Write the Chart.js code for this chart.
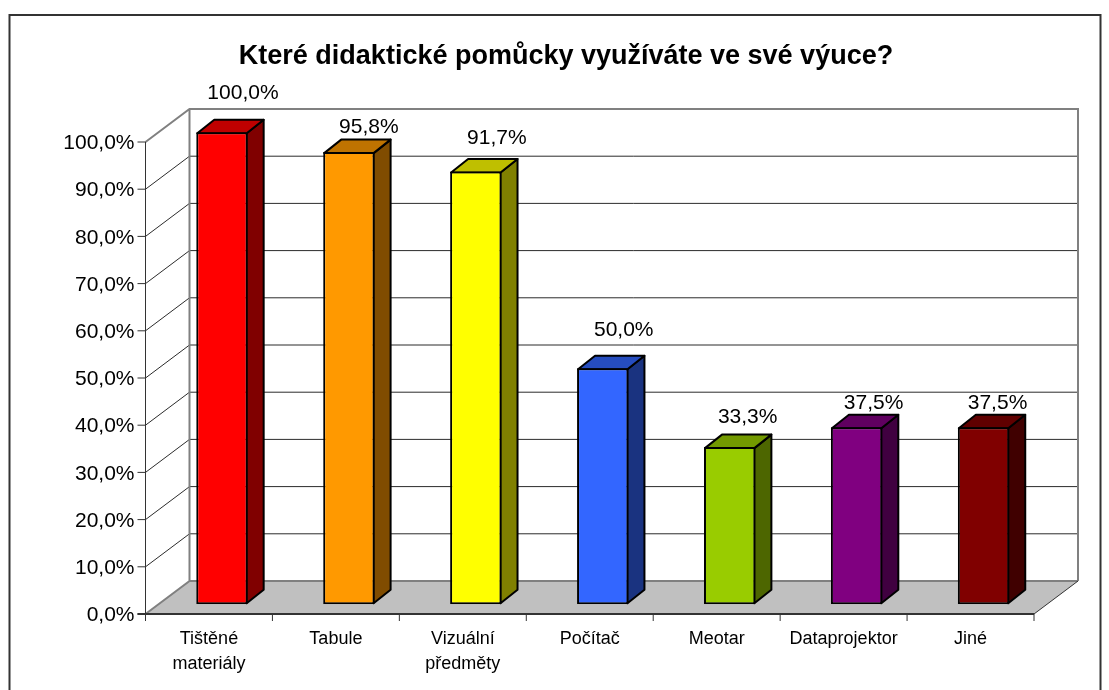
<!DOCTYPE html>
<html>
<head>
<meta charset="utf-8">
<title>Didaktické pomůcky</title>
<script src="https://cdn.jsdelivr.net/npm/chart.js@4/dist/chart.umd.js"></script>
<style>
  html, body { margin: 0; padding: 0; background: #fff; }
  #wrap { width: 1109px; height: 690px; }
</style>
</head>
<body>
<div id="wrap"><canvas id="pomuckyChart"></canvas></div>
<script>
const categories = [["Tištěné", "materiály"], "Tabule", ["Vizuální", "předměty"], "Počítač", "Meotar", "Dataprojektor", "Jiné"];
const percentages = [100.0, 95.8, 91.7, 50.0, 33.3, 37.5, 37.5];
const frontColors = ["#ff0000", "#ff9900", "#ffff00", "#3366ff", "#99cc00", "#800080", "#800000"];
const sideColors = ["#800000", "#804c00", "#808000", "#1a3380", "#4d6600", "#400040", "#400000"];
const topColors = ["#bf0000", "#bf7300", "#bfbf00", "#264dbf", "#739900", "#600060", "#600000"];
// manual nudge of each value label from the bar's front top edge
const labelNudge = [[21, -39], [20, -25], [21, -33], [21, -38], [18, -30], [17, -24], [14, -24]];

const fontName = "'Liberation Sans', Arial, sans-serif";
const wallDepth = { x: 44, y: -33 };
const barShift = { x: 13, y: -9.7 };
const barDepth = { x: 17, y: -13.5 };

function percentText(v) {
  return v.toFixed(1).replace(".", ",") + "%";
}

function poly(ctx, pts, fill, stroke, width) {
  ctx.beginPath();
  pts.forEach((p, i) => (i ? ctx.lineTo(p[0], p[1]) : ctx.moveTo(p[0], p[1])));
  ctx.closePath();
  if (fill) {
    ctx.fillStyle = fill;
    ctx.fill();
  }
  if (stroke) {
    ctx.strokeStyle = stroke;
    ctx.lineWidth = width;
    ctx.stroke();
  }
}

// outer frame, side wall, back wall and floor
const roomPlugin = {
  id: "room",
  afterLayout(chart) {
    // tick labels are wider than the fitted box, widen the clip area they draw in
    chart.scales.y.left = 30;
  },
  beforeDraw(chart) {
    const { ctx, chartArea: a, scales } = chart;
    const y = scales.y;
    const dx = wallDepth.x, dy = wallDepth.y;
    ctx.save();
    ctx.strokeStyle = "#333333";
    ctx.lineWidth = 2;
    ctx.strokeRect(9.5, 15, 1091, 700);

    // floor
    poly(ctx, [[a.left, a.bottom], [a.right, a.bottom], [a.right + dx, a.bottom + dy], [a.left + dx, a.bottom + dy]], "#c0c0c0");

    // grid lines on both walls
    ctx.strokeStyle = "#2b2b2b";
    ctx.lineWidth = 1;
    y.ticks.forEach((t) => {
      if (t.value === 0 || t.value === 100) return;
      const py = y.getPixelForValue(t.value);
      ctx.beginPath();
      ctx.moveTo(a.left, py);
      ctx.lineTo(a.left + dx, py + dy);
      ctx.lineTo(a.right + dx, py + dy);
      ctx.stroke();
    });

    // wall outlines
    ctx.strokeStyle = "#808080";
    ctx.lineWidth = 2;
    ctx.beginPath();
    ctx.moveTo(a.left, a.top);
    ctx.lineTo(a.left + dx, a.top + dy);
    ctx.lineTo(a.right + dx, a.top + dy);
    ctx.lineTo(a.right + dx, a.bottom + dy);
    ctx.moveTo(a.left, a.bottom);
    ctx.lineTo(a.left + dx, a.bottom + dy);
    ctx.lineTo(a.left + dx, a.top + dy);
    ctx.moveTo(a.left + dx, a.bottom + dy);
    ctx.lineTo(a.right + dx, a.bottom + dy);
    ctx.stroke();

    // right floor edge is darker than the wall outlines
    ctx.strokeStyle = "#333333";
    ctx.lineWidth = 1;
    ctx.beginPath();
    ctx.moveTo(a.right, a.bottom);
    ctx.lineTo(a.right + dx, a.bottom + dy);
    ctx.stroke();
    ctx.restore();
  }
};

// bars sit inside the room: shift the drawn rectangles and add their top and side faces
const boxPlugin = {
  id: "box",
  beforeDatasetDraw(chart, args) {
    const { ctx } = chart;
    const dx = barDepth.x, dy = barDepth.y;
    ctx.save();
    ctx.translate(barShift.x, barShift.y);
    args.meta.data.forEach((bar, i) => {
      const l = bar.x - bar.width / 2 + 1, r = bar.x + bar.width / 2 - 1;
      const t = bar.y + 1, b = bar.base - 1;
      ctx.lineJoin = "round";
      poly(ctx, [[r, t], [r + dx, t + dy], [r + dx, b + dy], [r, b]], sideColors[i], "#000", 2);
      poly(ctx, [[l, t], [l + dx, t + dy], [r + dx, t + dy], [r, t]], topColors[i], "#000", 2);
    });
  },
  afterDatasetDraw(chart, args) {
    const { ctx } = chart;
    ctx.restore();
    ctx.save();
    ctx.font = "21px " + fontName;
    ctx.fillStyle = "#000";
    ctx.textAlign = "center";
    ctx.textBaseline = "middle";
    args.meta.data.forEach((bar, i) => {
      ctx.fillText(
        percentText(percentages[i]),
        bar.x + barShift.x + labelNudge[i][0],
        bar.y + barShift.y + labelNudge[i][1]
      );
    });
    ctx.restore();
  }
};

new Chart(document.getElementById("pomuckyChart"), {
  type: "bar",
  data: {
    labels: categories,
    datasets: [
      {
        label: "Pomůcky",
        data: percentages,
        backgroundColor: frontColors,
        borderColor: "#000",
        borderWidth: 2,
        borderSkipped: false,
        categoryPercentage: 1,
        barPercentage: 0.405,
      },
    ],
  },
  options: {
    responsive: true,
    maintainAspectRatio: false,
    animation: false,
    layout: { padding: { left: 98, right: 75, top: 0, bottom: 0 } },
    plugins: {
      legend: { display: false },
      tooltip: { enabled: false },
      title: {
        display: true,
        text: "Které didaktické pomůcky využíváte ve své výuce?",
        color: "#000",
        font: { family: fontName, size: 27, weight: "bold" },
        padding: { top: 40, bottom: 69.6 },
      },
    },
    scales: {
      x: {
        grid: { display: false },
        border: { display: false },
        ticks: {
          color: "#000",
          font: { family: fontName, size: 18, lineHeight: 1.4 },
          maxRotation: 0,
          autoSkip: false,
          padding: 4,
        },
        afterFit(scale) {
          scale.height = 76;
        },
      },
      y: {
        min: 0,
        max: 100,
        grid: { display: false },
        border: { display: false },
        ticks: {
          stepSize: 10,
          color: "#000",
          font: { family: fontName, size: 21 },
          padding: 3,
          labelOffset: 1.5,
          callback: (v) => percentText(v),
        },
        afterFit(scale) {
          scale.width = 47.5;
        },
      },
    },
  },
  plugins: [
    roomPlugin,
    boxPlugin,
    {
      // axis lines and tick marks on the front edge of the room
      id: "axes",
      afterDraw(chart) {
        const { ctx, chartArea: a, scales } = chart;
        ctx.save();
        ctx.strokeStyle = "#333333";
        ctx.lineWidth = 1;
        ctx.beginPath();
        ctx.moveTo(a.left, a.top);
        ctx.lineTo(a.left, a.bottom + 7);
        scales.y.ticks.forEach((t) => {
          const py = scales.y.getPixelForValue(t.value);
          ctx.moveTo(a.left - 8, py);
          ctx.lineTo(a.left, py);
        });
        for (let i = 0; i <= categories.length; i++) {
          const px = a.left + (i * (a.right - a.left)) / categories.length;
          ctx.moveTo(px, a.bottom);
          ctx.lineTo(px, a.bottom + 7);
        }
        ctx.stroke();
        ctx.lineWidth = 2;
        ctx.beginPath();
        ctx.moveTo(a.left - 8, a.bottom);
        ctx.lineTo(a.right, a.bottom);
        ctx.stroke();
        ctx.restore();
      },
    },
  ],
});
</script>
</body>
</html>
